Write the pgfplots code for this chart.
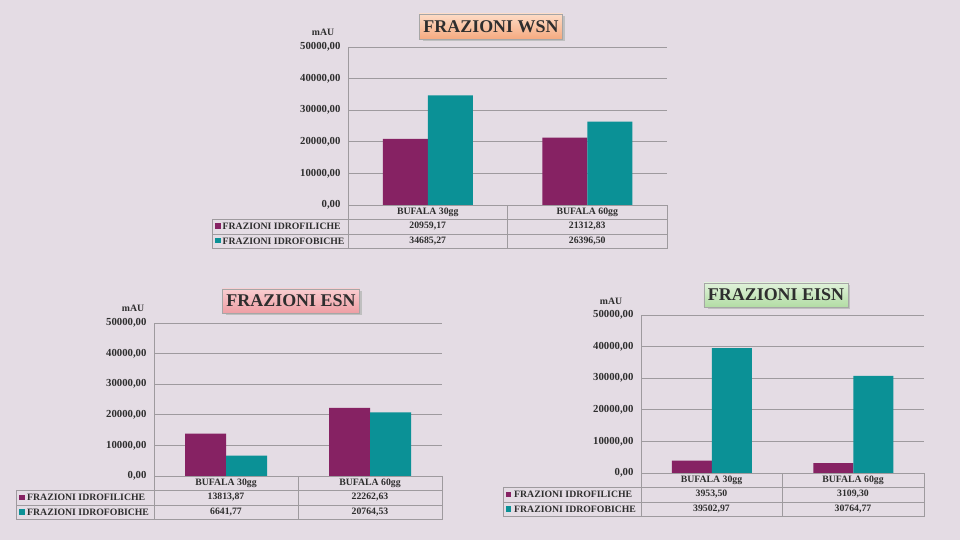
\documentclass[border=0pt]{standalone}
\usepackage{fontspec}
\setmainfont{Liberation Serif}
\usepackage{pgfplots}
\pgfplotsset{compat=1.18}
\definecolor{bgc}{HTML}{E4DCE4}
\definecolor{purp}{HTML}{862263}
\definecolor{teal2}{HTML}{0B9196}
\definecolor{gridc}{HTML}{9E9A9E}
\definecolor{txt}{HTML}{2E2E2E}
\definecolor{orT}{HTML}{FDDCC6}
\definecolor{orB}{HTML}{F5AA80}
\definecolor{pkT}{HTML}{F9CDD0}
\definecolor{pkB}{HTML}{EE9EA4}
\definecolor{grT}{HTML}{E0F2DA}
\definecolor{grB}{HTML}{B2DCA4}

\pgfplotsset{
  panel/.style={
    scale only axis, ybar=0pt, ymin=0, ymax=50000, xmin=-0.5, xmax=1.5,
    scaled y ticks=false,
    ytick={0,10000,20000,30000,40000,50000},
    yticklabels={{0,00},{10000,00},{20000,00},{30000,00},{40000,00},{50000,00}},
    xtick=\empty, ymajorgrids, grid style={gridc, line width=0.8bp},
    major tick length=0pt,
    axis lines*=left,
    x axis line style={draw=none},
    y axis line style={gridc, line width=0.8bp},
    yticklabel style={font=\fontsize{10.8}{12}\selectfont\bfseries, text=txt, xshift=-4bp},
    anchor=south west,
  }
}
\newcommand\tbl[8]{%
  \draw[gridc, line width=0.8bp] (#2,#6) rectangle (#4,#5);
  \draw[gridc, line width=0.8bp] (#1,#8) rectangle (#4,#6);
  \draw[gridc, line width=0.8bp] (#1,#7) -- (#4,#7);
  \draw[gridc, line width=0.8bp] (#2,#8) -- (#2,#6);
  \draw[gridc, line width=0.8bp] (#3,#8) -- (#3,#5);
}
\tikzset{tt/.style={font=\fontsize{9.8}{11}\selectfont\bfseries, text=txt, inner sep=0pt},
  ttl/.style={font=\fontsize{18}{20}\selectfont\bfseries, text=txt, draw=black!35, line width=0.6bp,
    minimum height=25bp, inner xsep=4bp}}

\begin{document}
\begin{tikzpicture}[x=1bp,y=1bp]
\useasboundingbox (0,0) rectangle (960,540);
\fill[bgc] (0,0) rectangle (960,540);

% ---------- WSN ----------
\begin{axis}[panel, at={(348bp,335bp)}, width=319bp, height=158bp, bar width=45bp]
\addplot[fill=purp, draw=none] coordinates {(0,20959.17) (1,21312.83)};
\addplot[fill=teal2, draw=none] coordinates {(0,34685.27) (1,26396.50)};
\end{axis}
\tbl{212}{348}{507}{667}{335}{321}{306}{292}
\node[tt] at (427.75,328) {BUFALA 30gg};
\node[tt] at (587.25,328) {BUFALA 60gg};
\fill[purp] (215,311) rectangle (220.5,316.5);
\fill[teal2] (215,296.5) rectangle (220.5,302);
\node[tt, anchor=west] at (222.5,313.5) {FRAZIONI IDROFILICHE};
\node[tt, anchor=west] at (222.5,299) {FRAZIONI IDROFOBICHE};
\node[tt] at (427.75,313.5) {20959,17};
\node[tt] at (587.25,313.5) {21312,83};
\node[tt] at (427.75,299) {34685,27};
\node[tt] at (587.25,299) {26396,50};
\node[tt] at (323,508) {mAU};
\fill[black!25] (422.5,499) rectangle (564.5,524);
\node[ttl, top color=orT, bottom color=orB, minimum width=142bp] at (491,513.5) {FRAZIONI WSN};

% ---------- ESN ----------
\begin{axis}[panel, at={(154bp,64bp)}, width=288bp, height=153bp, bar width=41bp]
\addplot[fill=purp, draw=none] coordinates {(0,13813.87) (1,22262.63)};
\addplot[fill=teal2, draw=none] coordinates {(0,6641.77) (1,20764.53)};
\end{axis}
\tbl{16}{154}{298}{442}{64}{50}{35}{21}
\node[tt] at (226,57) {BUFALA 30gg};
\node[tt] at (370,57) {BUFALA 60gg};
\fill[purp] (19,39.75) rectangle (24.5,45.25);
\fill[teal2] (19,25.25) rectangle (24.5,30.75);
\node[tt, anchor=west] at (27,42.5) {FRAZIONI IDROFILICHE};
\node[tt, anchor=west] at (27,28) {FRAZIONI IDROFOBICHE};
\node[tt] at (226,42.5) {13813,87};
\node[tt] at (370,42.5) {22262,63};
\node[tt] at (226,28) {6641,77};
\node[tt] at (370,28) {20764,53};
\node[tt] at (133,232) {mAU};
\fill[black!25] (225.5,225) rectangle (361.5,249);
\node[ttl, top color=pkT, bottom color=pkB, minimum width=136bp, minimum height=24bp] at (291,239) {FRAZIONI ESN};

% ---------- EISN ----------
\begin{axis}[panel, at={(641bp,67bp)}, width=283bp, height=158bp, bar width=40bp]
\addplot[fill=purp, draw=none] coordinates {(0,3953.50) (1,3109.30)};
\addplot[fill=teal2, draw=none] coordinates {(0,39502.97) (1,30764.77)};
\end{axis}
\tbl{503}{641}{782}{924}{67}{53}{38}{24}
\node[tt] at (711.5,60) {BUFALA 30gg};
\node[tt] at (853,60) {BUFALA 60gg};
\fill[purp] (505.5,42.75) rectangle (511,48.25);
\fill[teal2] (505.5,28.25) rectangle (511,33.75);
\node[tt, anchor=west] at (514,45.5) {FRAZIONI IDROFILICHE};
\node[tt, anchor=west] at (514,31) {FRAZIONI IDROFOBICHE};
\node[tt] at (711.5,45.5) {3953,50};
\node[tt] at (853,45.5) {3109,30};
\node[tt] at (711.5,31) {39502,97};
\node[tt] at (853,31) {30764,77};
\node[tt] at (611,239) {mAU};
\fill[black!25] (707.5,231) rectangle (849.5,255);
\node[ttl, top color=grT, bottom color=grB, minimum width=142bp, minimum height=24bp] at (776,245) {FRAZIONI EISN};
\end{tikzpicture}
\end{document}
